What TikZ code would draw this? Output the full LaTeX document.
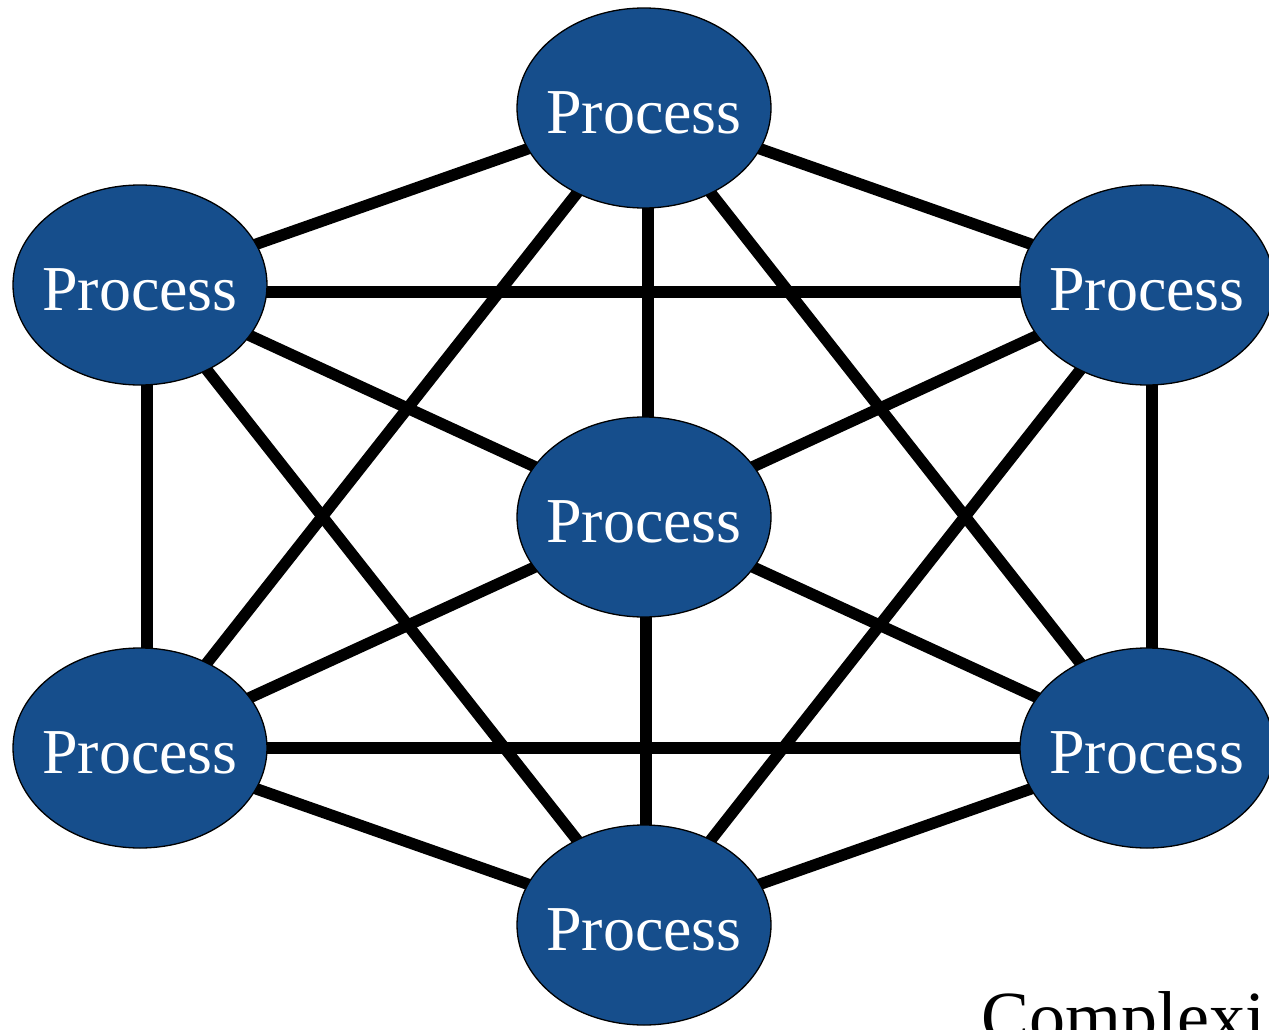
\documentclass[tikz,border=0pt]{standalone}
\usepackage{fontspec}
\setmainfont{Liberation Serif}
\usetikzlibrary{shapes.geometric}
\definecolor{procblue}{RGB}{22,78,140}
\begin{document}
\begin{tikzpicture}[x=1pt,y=-1pt,
  proc/.style={ellipse,draw=black,line width=1.3pt,fill=procblue,
    minimum width=254pt,minimum height=200pt,inner sep=0pt,
    label={[text=white,font=\fontsize{64}{64}\selectfont,yshift=-5pt]center:Process}},
  link/.style={line width=11.5pt,black}]
\useasboundingbox (0,0) rectangle (1269,1030);
\clip (0,0) rectangle (1269,1030);
% node positions
\coordinate (pT) at (644,108);
\coordinate (pLT) at (140,285);
\coordinate (pRT) at (1147,285);
\coordinate (pC) at (644,517);
\coordinate (pLB) at (140,748);
\coordinate (pRB) at (1147,748);
\coordinate (pB) at (644,925);
% connectors (drawn first so the ellipses cover their ends)
\draw[link] (pT) -- (pLT);
\draw[link] (pT) -- (pRT);
\draw[link] ([xshift=4pt]pT) -- ([xshift=4pt]pC);
\draw[link] ([xshift=2pt]pC) -- ([xshift=2pt]pB);
\draw[link] (pT) -- (pLB);
\draw[link] (pT) -- (pRB);
\draw[link] ([yshift=-7pt]pLT) -- ([yshift=-7pt]pRT);
\draw[link] (pLB) -- (pRB);
\draw[link] ([xshift=7pt]pLT) -- ([xshift=7pt]pLB);
\draw[link] ([xshift=5pt]pRT) -- ([xshift=5pt]pRB);
\draw[link] (pLT) -- (pC);
\draw[link] (pRT) -- (pC);
\draw[link] (pLB) -- (pC);
\draw[link] (pRB) -- (pC);
\draw[link] (pLT) -- (pB);
\draw[link] (pRT) -- (pB);
\draw[link] (pLB) -- (pB);
\draw[link] (pRB) -- (pB);
% processes
\node[proc] (T) at (pT) {};
\node[proc] (LT) at (pLT) {};
\node[proc] (RT) at (pRT) {};
\node[proc] (C) at (pC) {};
\node[proc] (LB) at (pLB) {};
\node[proc] (RB) at (pRB) {};
\node[proc] (B) at (pB) {};
% caption
\node[anchor=base west,inner sep=0pt,font=\fontsize{72}{72}\selectfont] (cap) at (981,1041) {Complexi};
\end{tikzpicture}
\end{document}
